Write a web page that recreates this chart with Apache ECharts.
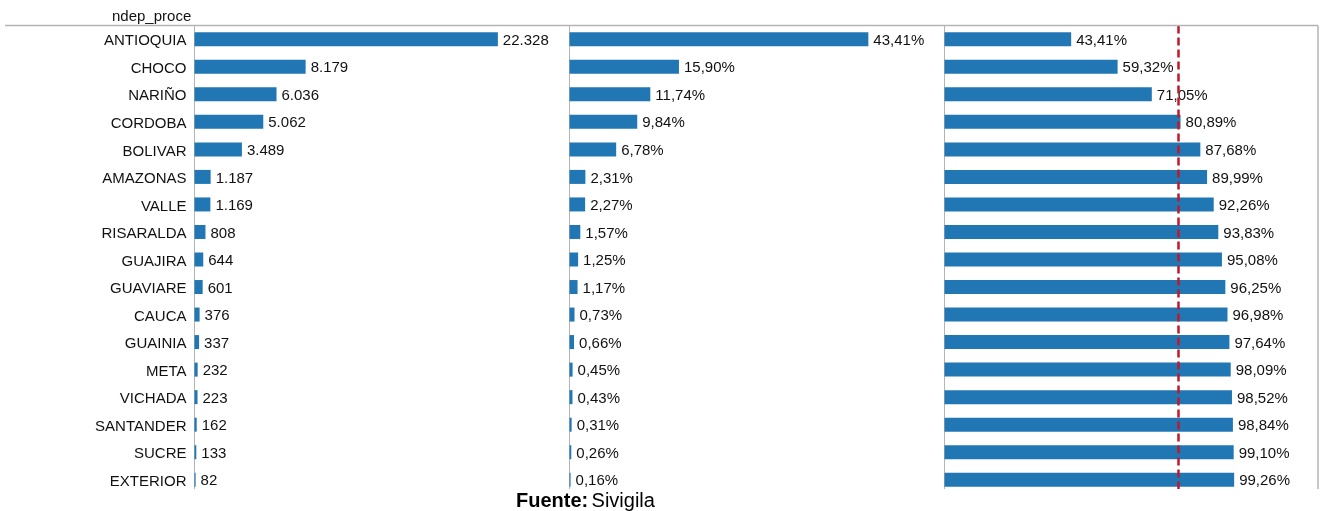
<!DOCTYPE html>
<html>
<head>
<meta charset="utf-8">
<script src="https://cdn.jsdelivr.net/npm/echarts@6/dist/echarts.min.js"></script>
<style>
html,body{margin:0;padding:0;background:#fff;}
#c{width:1324px;height:511px;}
</style>
</head>
<body>
<div id="c"></div>
<script>
var categories = ['ANTIOQUIA','CHOCO','NARIÑO','CORDOBA','BOLIVAR','AMAZONAS','VALLE','RISARALDA','GUAJIRA','GUAVIARE','CAUCA','GUAINIA','META','VICHADA','SANTANDER','SUCRE','EXTERIOR'];
var counts = [22328,8179,6036,5062,3489,1187,1169,808,644,601,376,337,232,223,162,133,82];
var percents = [43.41,15.90,11.74,9.84,6.78,2.31,2.27,1.57,1.25,1.17,0.73,0.66,0.45,0.43,0.31,0.26,0.16];
var cumulative = [43.41,59.32,71.05,80.89,87.68,89.99,92.26,93.83,95.08,96.25,96.98,97.64,98.09,98.52,98.84,99.10,99.26];
var threshold = 80;
var headerLabel = 'ndep_proce';

var FONT = '"Liberation Sans", Arial, sans-serif';
var BAR = '#2077b4';
var LINE = '#b4b4b4';

function fmtCount(v){ return String(v).replace(/\B(?=(\d{3})+(?!\d))/g, '.'); }
function fmtPct(v){ return v.toFixed(2).replace('.', ',') + '%'; }

var top0 = 25.5, h0 = 468;
var grids = [
  {left:194.5, top:top0, width:375, height:h0},
  {left:569.5, top:top0, width:374.5, height:h0},
  {left:944.5, top:top0, width:373.5, height:h0}
];
var maxes = [27600, 54.4, 128];

var xAxes = grids.map(function(g,i){
  return {gridIndex:i, type:'value', min:0, max:maxes[i], show:false};
});
var yAxes = grids.map(function(g,i){
  return {
    gridIndex:i, type:'category', inverse:true, data:categories,
    axisLine:{show:true, lineStyle:{color:LINE, width:1}},
    axisTick:{show:false},
    splitLine:{show:false},
    axisLabel:{show:i===0, margin:8,
      formatter:function(v){ return '{a|' + v + '}'; },
      rich:{a:{color:'#111', fontSize:15, fontFamily:FONT, padding:[4,0,0,0]}}}
  };
});

function labelCfg(fmt){
  return {show:true, position:'right', distance:5, offset:[0,1.5], color:'#111', fontSize:15, fontFamily:FONT,
    formatter:function(p){ return fmt(p.value); }};
}

var series = [
  {type:'bar', xAxisIndex:0, yAxisIndex:0, data:counts, barWidth:14, itemStyle:{color:BAR}, label:labelCfg(fmtCount), silent:true},
  {type:'bar', xAxisIndex:1, yAxisIndex:1, data:percents, barWidth:14, itemStyle:{color:BAR}, label:labelCfg(fmtPct), silent:true},
  {type:'bar', xAxisIndex:2, yAxisIndex:2, data:cumulative, barWidth:14, itemStyle:{color:BAR}, label:labelCfg(fmtPct), silent:true,
    markLine:{silent:true, symbol:['none','none'], label:{show:false},
      lineStyle:{color:'#c0182c', type:[8,4], width:2.5},
      data:[{xAxis:threshold}]}}
];

var chart = echarts.init(document.getElementById('c'), null, {renderer:'canvas'});
chart.setOption({
  animation:false,
  backgroundColor:'#fff',
  grid:grids,
  xAxis:xAxes,
  yAxis:yAxes,
  series:series,
  graphic:[
    {type:'line', z:50, shape:{x1:5, y1:25.5, x2:1318, y2:25.5}, style:{stroke:LINE, lineWidth:1.5}},
    {type:'line', z:50, shape:{x1:1318, y1:25.5, x2:1318, y2:489}, style:{stroke:LINE, lineWidth:1.5}},
    {type:'text', z:50, left:112, top:9, style:{text:headerLabel, fill:'#111', font:'15px ' + FONT}},
    {type:'rect', z:100, shape:{x:0, y:489, width:1324, height:22}, style:{fill:'#fff'}},
    {type:'text', z:101, left:516, top:491, style:{
      text:'{b|Fuente:} {n|Sivigila}',
      rich:{
        b:{fontSize:20, fontWeight:'bold', fontFamily:FONT, fill:'#000'},
        n:{fontSize:20, fontFamily:FONT, fill:'#000'}
      }}}
  ]
});
</script>
</body>
</html>
